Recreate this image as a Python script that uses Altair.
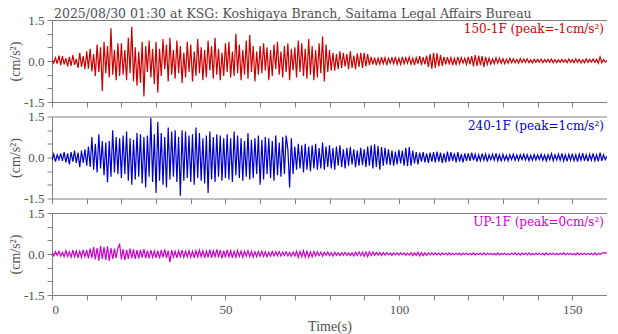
import altair as alt
import pandas as pd

title_text = "2025/08/30 01:30 at KSG: Koshigaya Branch, Saitama Legal Affairs Bureau"
channels = ["150-1F", "240-1F", "UP-1F"]
peaks = ["-1", "1", "0"]
colors = ["#cc0000", "#0000cc", "#cc00cc"]
dt = 0.5  # seconds between samples
x_ticks = list(range(0, 161, 10))
y_ticks = [-1.5, -1.0, -0.5, 0.0, 0.5, 1.0, 1.5]

# acceleration, hundredths of cm/s^2, one value per 0.5 s
acc_150 = [
    5, -8, 12, -10, 20, -15, 18, -12, 10, -20, 15, -18, 22, -14, 8, -25, 30, -22, 18, -30,
    35, -28, 45, -38, 25, -55, 60, -40, 50, -110, 70, -45, 55, -60, 120, -50, 40, -70, 65, -55,
    65, -50, 40, -70, 85, -45, 125, -75, 50, -90, 35, -80, 70, -130, 55, -40, 75, -60, 45, -85,
    70, -115, 45, -55, 80, -30, 60, -75, 85, -50, 40, -65, 75, -45, 55, -80, 30, -60, 70, -40,
    60, -75, 35, -55, 80, -45, 50, -70, 40, -60, 75, -35, 55, -65, 85, -50, 45, -70, 30, -55,
    65, -40, 70, -60, 35, -55, 100, -45, 60, -70, 40, -50, 75, -65, 95, -40, 55, -75, 35, -50,
    55, -45, 65, -35, 50, -70, 40, -55, 60, -30, 70, -50, 35, -60, 55, -40, 65, -70, 45, -35,
    50, -60, 75, -40, 65, -55, 45, -65, 80, -50, 55, -70, 40, -60, 65, -45, 90, -75, 60, -40,
    40, -35, 30, -35, 25, -30, 35, -25, 30, -20, 25, -30, 35, -25, 20, -30, 28, -22, 30, -25,
    30, -20, 25, -15, 15, -12, 12, -15, 10, -12, 14, -10, 12, -15, 10, -8, 12, -10, 15, -12,
    10, -12, 15, -10, 12, -8, 14, -12, 10, -15, 12, -10, 18, -15, 14, -12, 20, -22, 25, -28,
    30, -25, 28, -20, 22, -18, 15, -12, 14, -10, 12, -15, 10, -12, 15, -10, 12, -8, 10, -12,
    15, -12, 18, -20, 22, -18, 20, -15, 18, -22, 15, -12, 10, -12, 8, -10, 12, -8, 10, -8,
    8, -10, 6, -8, 10, -6, 8, -7, 6, -8, 9, -6, 7, -5, 8, -6, 5, -7, 6, -5,
    6, -5, 7, -6, 5, -4, 6, -5, 7, -6, 5, -6, 4, -5, 6, -4, 5, -6, 7, -5,
    5, -6, 8, -5, 6, -7, 5, -6, 8, -5, 6, -4, 7, -5, 6, -8, 15, -6, 5, -4,
    2,
]

acc_240 = [
    -10, 12, -15, 10, -8, 15, -12, 20, -18, 15, -25, 20, -15, 25, -20, 18, -35, 25, -20, 30,
    -30, 40, -35, 75, -45, 50, -55, 85, -40, 60, -65, 55, -90, 60, -70, 100, -55, 75, -60, 70,
    -75, 80, -60, 95, -85, 70, -100, 65, -80, 90, -70, 85, -95, 75, -110, 80, -70, 145, -90, 85,
    -130, 130, -85, 90, -100, 75, -110, 110, -80, 95, -70, 100, -90, 75, -140, 100, -85, 95, -75, 80,
    -90, 85, -100, 110, -75, 90, -85, 70, -95, 80, -130, 95, -80, 75, -90, 85, -70, 80, -85, 70,
    -75, 85, -80, 70, -90, 95, -65, 80, -75, 70, -85, 60, -70, 90, -80, 65, -75, 70, -60, 80,
    -100, 65, -80, 75, -60, 70, -75, 60, -85, 80, -65, 55, -70, 75, -60, 80, 30, -110, 70, -60,
    40, -45, 50, -40, 45, -55, 50, -45, 40, -50, 45, -40, 50, -45, 35, -40, 55, -45, 40, -35,
    45, -40, 35, -45, 40, -30, 45, -35, 30, -40, 35, -30, 38, -25, 30, -35, 25, -30, 35, -28,
    30, -35, 40, -30, 45, -40, 48, -35, 42, -45, 38, -30, 35, -25, 30, -28, 25, -30, 22, -25,
    28, -22, 25, -30, 35, -32, 38, -30, 25, -22, 20, -25, 18, -15, 20, -18, 15, -20, 18, -15,
    20, -18, 22, -15, 18, -20, 15, -18, 22, -15, 20, -12, 15, -18, 20, -15, 12, -18, 15, -12,
    15, -12, 18, -10, 12, -15, 10, -12, 14, -10, 12, -15, 10, -8, 12, -10, 15, -12, 10, -14,
    12, -10, 8, -12, 10, -8, 12, -10, 9, -11, 10, -8, 12, -9, 10, -12, 8, -10, 11, -9,
    10, -8, 12, -10, 9, -12, 10, -8, 14, -12, 10, -9, 12, -10, 15, -12, 10, -14, 12, -10,
    14, -12, 10, -15, 12, -10, 16, -12, 10, -14, 12, -10, 15, -12, 10, -14, 18, -12, 10, -8,
    5,
]

acc_up = [
    5, -7, 8, -5, 10, -8, 6, -10, 12, -9, 8, -12, 14, -10, 12, -14, 10, -12, 15, -10,
    14, -16, 20, -14, 25, -20, 22, -24, 30, -18, 25, -22, 28, -25, 22, -18, 20, -15, 22, 35,
    -20, 18, -22, 15, -18, 20, -15, 17, -18, 14, -16, 15, -13, 18, -15, 12, -16, 14, -12, 11,
    -14, 12, -16, 14, -12, 17, -14, 12, -30, 14, -12, 10, -14, 12, -10, 14, -12, 10, -11, 12,
    -12, 10, -14, 12, -11, 14, -10, 12, -14, 11, -12, 16, -14, 12, -10, 17, -12, 14, -16, 12,
    -12, 15, -10, 12, -14, 10, -12, 13, -9, 11, -12, 10, -8, 12, -10, 9, -11, 8, -10, 9,
    -8, 10, -9, 8, -10, 7, -8, 9, -7, 8, -6, 9, -8, 7, -6, 8, -7, 6, -8, 7,
    -8, 10, -12, 9, -10, 12, -11, 10, -12, 8, -10, 9, -7, 8, -6, 7, -8, 6, -5, 7,
    -6, 5, -7, 6, -5, 4, -6, 5, -4, 6, -5, 4, -6, 5, -7, 6, -5, 8, -6, 7,
    -8, 7, -9, 8, -6, 7, -5, 6, -4, 5, -6, 5, -4, 5, -3, 4, -5, 4, -3, 4,
    -4, 5, -3, 4, -5, 3, -4, 5, -6, 4, -5, 6, -7, 5, -6, 4, -5, 4, -3, 4,
    -3, 4, -3, 3, -4, 3, -2, 3, -3, 4, -3, 2, -3, 3, -2, 3, -4, 3, -2, 3,
    -3, 2, -3, 4, -3, 2, -2, 3, -3, 4, -3, 3, -2, 3, -3, 2, -3, 4, -3, 2,
    -2, 3, -3, 2, -3, 3, -2, 4, -3, 3, -4, 3, -2, 3, -3, 4, -3, 2, -3, 3,
    -2, 3, -3, 2, -3, 4, -3, 3, -2, 3, -3, 2, -3, 3, -2, 4, -3, 3, -2, 3,
    -3, 2, -3, 4, -3, 3, -2, 3, -3, 2, -2, 3, -3, 4, -3, 3, -2, 3, 5, 3,
    4,
]

series = [acc_150, acc_240, acc_up]

FONT = "Liberation Serif"
WIDE_FONT = "DejaVu Serif"
TEXT_GRAY = "#505050"
FRAME_GRAY = "#808080"
W, H = 555, 82


def panel(vals, name, peak, color, first, bottom):
    df = pd.DataFrame({
        "t": [i * dt for i in range(len(vals))],
        "a": [v / 100.0 for v in vals],
    })
    if bottom:
        x_axis = alt.Axis(
            values=x_ticks,
            labelExpr="datum.value % 50 == 0 ? datum.label : ''",
            title="Time(s)",
        )
    else:
        x_axis = alt.Axis(values=x_ticks, labels=False, title=None)
    y_axis = alt.Axis(
        values=y_ticks,
        labelExpr="datum.value == 1.5 ? '1.5' : (datum.value == 0 ? '0.0' : (datum.value == -1.5 ? '-1.5' : ''))",
        title="(cm/s²)",
    )
    line = alt.Chart(df).mark_line(color=color, strokeWidth=1.2, clip=True).encode(
        x=alt.X("t:Q", scale=alt.Scale(domain=[0, 160], nice=False, zero=False), axis=x_axis),
        y=alt.Y("a:Q", scale=alt.Scale(domain=[-1.5, 1.5], nice=False, zero=False), axis=y_axis),
    )
    lab = alt.Chart(pd.DataFrame({"label": [f"{name} (peak={peak}cm/s²)"]})).mark_text(
        align="right", baseline="middle", font=WIDE_FONT, fontSize=12, color=color
    ).encode(
        text="label:N",
        x=alt.value(W - 3),
        y=alt.value(9),
    )
    layers = [line, lab]
    if first:
        ttl = alt.Chart(pd.DataFrame({"title": [title_text]})).mark_text(
            align="left", baseline="alphabetic", font=WIDE_FONT, fontSize=12.5, color=TEXT_GRAY
        ).encode(
            text="title:N",
            x=alt.value(2),
            y=alt.value(-2),
        )
        layers.append(ttl)
    return alt.layer(*layers).properties(width=W, height=H)


panels = [
    panel(series[i], channels[i], peaks[i], colors[i], i == 0, i == 2) for i in range(3)
]

chart = alt.vconcat(*panels, spacing=14.5, bounds="flush").properties(
    padding={"left": 44, "top": 12, "right": 0, "bottom": 314},
    autosize=alt.AutoSizeParams(type="none"),
).configure_view(
    stroke=FRAME_GRAY, strokeWidth=1
).configure_axis(
    domain=False, grid=False, tickColor=FRAME_GRAY, tickSize=5, tickWidth=1,
    labelFont=FONT, labelFontSize=13, labelColor=TEXT_GRAY, labelPadding=3,
    titleFont=FONT, titleFontSize=14, titleFontWeight="normal", titleColor=TEXT_GRAY,
).configure_axisY(
    titlePadding=1,
).configure_axisX(
    titlePadding=3,
)

chart.save("out.html", embed_options={"renderer": "svg", "actions": False})
